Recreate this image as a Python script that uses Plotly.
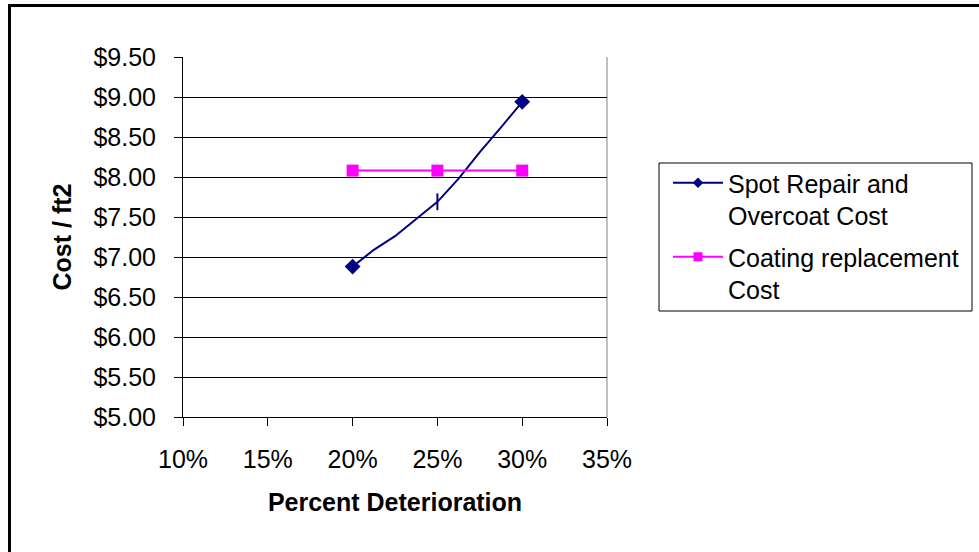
import plotly.graph_objects as go

# ---- data ----
spot_x = [0.20, 0.2125, 0.225, 0.2375, 0.25, 0.2625, 0.275, 0.2875, 0.30]
spot_y = [6.88, 7.09, 7.26, 7.48, 7.69, 7.98, 8.31, 8.62, 8.94]
spot_symbols = ["diamond", "circle", "circle", "circle", "line-ns", "circle", "circle", "circle", "diamond"]
spot_sizes = [10, 0, 0, 0, 12, 0, 0, 0, 10]

coat_x = [0.20, 0.25, 0.30]
coat_y = [8.08, 8.08, 8.08]

spot_name = "Spot Repair and<br>Overcoat Cost"
coat_name = "Coating replacement<br>Cost"

x_ticks = [0.10, 0.15, 0.20, 0.25, 0.30, 0.35]
y_ticks = [5.0, 5.5, 6.0, 6.5, 7.0, 7.5, 8.0, 8.5, 9.0, 9.5]

NAVY = "#000080"
MAGENTA = "#FF00FF"
FONT = "Liberation Sans, Arial, sans-serif"
FS = 25

fig = go.Figure()

# data traces
fig.add_trace(go.Scatter(
    x=spot_x, y=spot_y, mode="lines+markers", showlegend=False,
    line=dict(color=NAVY, width=2),
    marker=dict(symbol=spot_symbols, size=spot_sizes, color=NAVY, opacity=1,
                line=dict(color=NAVY, width=2)),
))
fig.add_trace(go.Scatter(
    x=coat_x, y=coat_y, mode="lines+markers", showlegend=False,
    line=dict(color=MAGENTA, width=2),
    marker=dict(symbol="square", size=12, color=MAGENTA, opacity=1),
))
# legend entries
fig.add_trace(go.Scatter(
    x=[None], y=[None], mode="lines+markers", name=spot_name, legendgroup="a",
    line=dict(color=NAVY, width=2),
    marker=dict(symbol="diamond", size=8, color=NAVY),
))
fig.add_trace(go.Scatter(
    x=[None], y=[None], mode="lines+markers", name=coat_name, legendgroup="b",
    line=dict(color=MAGENTA, width=2),
    marker=dict(symbol="square", size=9, color=MAGENTA),
))

W, H = 979, 552
L, T, PW, PH = 183, 57, 424, 360

def px(xp):
    return (xp - L) / PW

def py(yp):
    return (T + PH - yp) / PH

fig.update_layout(
    width=W, height=H,
    margin=dict(l=L, r=W - L - PW, t=T, b=H - T - PH, pad=0),
    paper_bgcolor="white", plot_bgcolor="white",
    font=dict(family=FONT, size=FS, color="black"),
    showlegend=True,
    legend=dict(
        x=px(668), y=py(160), xanchor="left", yanchor="top",
        bgcolor="rgba(0,0,0,0)", borderwidth=0,
        font=dict(family=FONT, size=FS, color="black"),
        valign="top", tracegroupgap=6, itemwidth=50,
    ),
    xaxis=dict(
        range=[0.10, 0.35], tickvals=x_ticks, tickformat=".0%",
        showgrid=False, zeroline=False,
        showline=True, linecolor="black", linewidth=1,
        ticks="outside", ticklen=8, tickcolor="black",
        ticklabelstandoff=12,
        title=dict(text="<b>Percent Deterioration</b>", standoff=21,
                   font=dict(family=FONT, size=FS)),
    ),
    yaxis=dict(
        range=[5.0, 9.5], tickvals=y_ticks, tickformat="$.2f",
        showgrid=True, gridcolor="black", gridwidth=1,
        zeroline=False,
        showline=True, linecolor="black", linewidth=1,
        ticks="outside", ticklen=8, tickcolor="black",
        ticklabelstandoff=13,
        title=dict(text="<b>Cost / ft2</b>", standoff=14,
                   font=dict(family=FONT, size=FS)),
    ),
    shapes=[
        # plot area right border
        dict(type="line", xref="paper", yref="paper", x0=1, x1=1, y0=0, y1=1,
             line=dict(color="#808080", width=1), layer="below"),
        # legend box
        dict(type="rect", xref="paper", yref="paper",
             x0=px(659), x1=px(972), y0=py(311), y1=py(163),
             line=dict(color="black", width=1), fillcolor="rgba(0,0,0,0)"),
        # outer chart border
        dict(type="rect", xref="paper", yref="paper",
             x0=px(9.5), x1=px(1000), y0=py(580), y1=py(5.5),
             line=dict(color="black", width=3), fillcolor="rgba(0,0,0,0)"),
    ],
)

fig.write_html("out.html", config={"displayModeBar": False},
               post_script="document.body.style.margin='0px';")
